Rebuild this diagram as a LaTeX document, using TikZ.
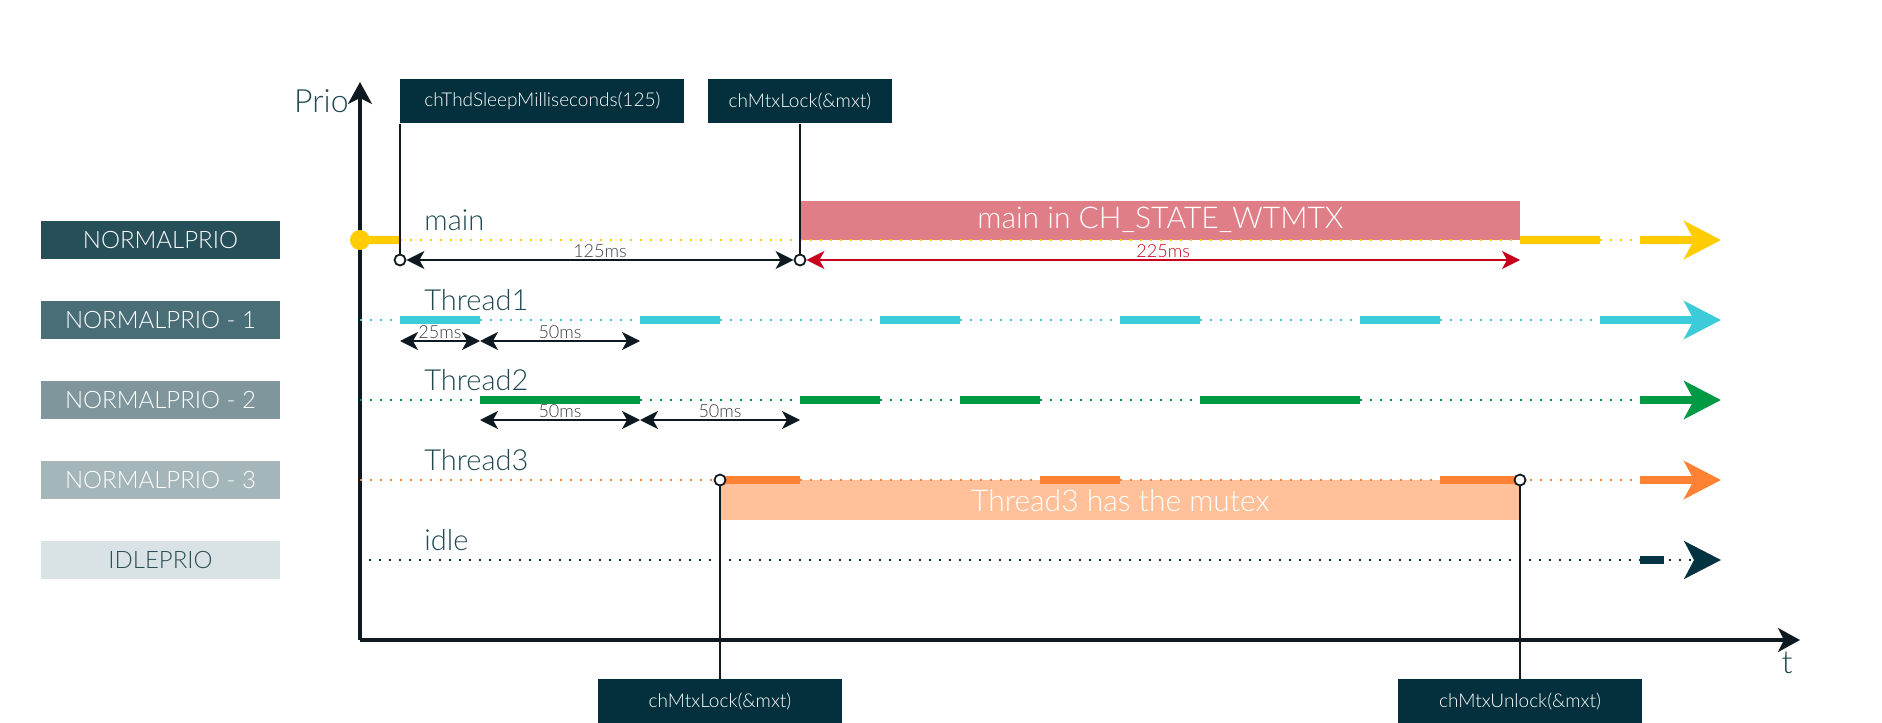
\documentclass[tikz,border=0pt]{standalone}
\usepackage{fontspec}
\setmainfont{Lato}[UprightFont=* Light]
\usetikzlibrary{arrows.meta,positioning,calc}
\definecolor{ink}{HTML}{0F1A20}
\definecolor{teal}{HTML}{1F4852}
\definecolor{callbg}{HTML}{03303C}
\definecolor{prioA}{HTML}{264F5A}
\definecolor{prioB}{HTML}{4A6E77}
\definecolor{prioC}{HTML}{7F979C}
\definecolor{prioD}{HTML}{A5B6BA}
\definecolor{prioE}{HTML}{D9E2E4}
\definecolor{idletext}{HTML}{2B4E57}
\definecolor{yellow}{HTML}{FFCC00}
\definecolor{cyan}{HTML}{3BCBD9}
\definecolor{green}{HTML}{009A44}
\definecolor{orange}{HTML}{FF8133}
\definecolor{navy}{HTML}{033341}
\definecolor{rose}{HTML}{E07E88}
\definecolor{peach}{HTML}{FFC09A}
\definecolor{red}{HTML}{C8001E}
\definecolor{dimgray}{HTML}{3A3F44}
\tikzset{
  priobox/.style={minimum width=119.5pt, minimum height=19pt, inner sep=0pt, text=white, font=\fontsize{12}{13}\selectfont},
  callbox/.style={fill=callbg, text=white, inner sep=0pt, minimum height=22pt, font=\fontsize{9.5}{10}\selectfont},
  lanelabel/.style={anchor=base west, inner sep=0pt, text=teal, font=\fontsize{14.5}{16}\selectfont},
  statebox/.style={inner sep=0pt, text=white, font=\fontsize{15}{17}\selectfont},
  dotline/.style={line width=1.2pt, dash pattern=on 1.1pt off 3.9pt},
  runseg/.style={line width=4pt},
  lanearrow/.style={line width=4pt, -{Stealth[length=18.5pt,width=19pt,inset=5pt]}},
  axisline/.style={draw=ink, line width=1.6pt, -{Stealth[length=11pt,width=12pt,inset=3pt]}},
  dimarrow/.style={line width=1pt, {Stealth[length=9pt,width=9pt,inset=2.5pt]}-{Stealth[length=9pt,width=9pt,inset=2.5pt]}},
  dimlabel/.style={above, inner sep=0.6pt, text=dimgray, font=\fontsize{9}{10}\selectfont},
  callline/.style={draw=ink, line width=0.8pt},
  evt/.style={circle, draw=ink, fill=white, line width=0.9pt, minimum size=5.5pt, inner sep=0pt},
}

\begin{document}
\begin{tikzpicture}[x=0.5pt, y=-0.5pt]
\useasboundingbox (0,0) rectangle (1882,722);
\foreach \txt/\col/\tc [count=\i from 0] in {NORMALPRIO/prioA/white, NORMALPRIO - 1/prioB/white, NORMALPRIO - 2/prioC/white, NORMALPRIO - 3/prioD/white, IDLEPRIO/prioE/idletext}
  \node[priobox, fill=\col, text=\tc] (prio\i) at (160.5,{240+80*\i}) {\txt};
\coordinate (o) at (360,640);
\coordinate (ytip) at (360,82);
\coordinate (xtip) at (1800,640);
\draw[axisline] (o) -- (ytip);
\draw[axisline] (o) -- (xtip);
\node[anchor=east, inner sep=0pt, text=teal, font=\fontsize{16}{17}\selectfont] (priolab) at (349,101) {Prio};
\node[inner sep=0pt, text=teal, font=\fontsize{16}{17}\selectfont] (tlab) at (1787,663) {t};
\node[lanelabel] (lmain) at (424,230) {main};
\node[lanelabel] (lth1) at (424,310) {Thread1};
\node[lanelabel] (lth2) at (424,390) {Thread2};
\node[lanelabel] (lth3) at (424,470) {Thread3};
\node[lanelabel] (lidle) at (424,550) {idle};
\node[statebox, fill=rose, minimum width=360pt, minimum height=19.5pt, anchor=south west] (wtmtx) at (800,240) {main in CH\_STATE\_WTMTX};
\node[statebox, fill=peach, minimum width=400pt, minimum height=20pt, anchor=north west] (owns) at (720,480) {Thread3 has the mutex};
\node[callbox, minimum width=142pt, anchor=north west] (sleep) at (400,79) {chThdSleepMilliseconds(125)};
\node[callbox, minimum width=92pt, anchor=north] (lockA) at (800,79) {chMtxLock(\&mxt)};
\node[callbox, minimum width=122pt, anchor=north] (lockB) at (720,679) {chMtxLock(\&mxt)};
\node[callbox, minimum width=122pt, anchor=north] (unlock) at (1520,679) {chMtxUnlock(\&mxt)};
\fill[yellow] (360,240) circle (5pt);
\draw[yellow, runseg] (360,240) -- (400,240);
\draw[yellow, dotline] (400,240) -- (1640,240);
\draw[yellow, runseg] (1520,240) -- (1600,240);
\draw[yellow, lanearrow] (1640,240) -- (1721,240);
\draw[cyan, dotline] (360,320) -- (1600,320);
\foreach \a/\b in {0/1,3/4,6/7,9/10,12/13}
  \draw[cyan, runseg] ({400+80*\a},320) -- ({400+80*\b},320);
\draw[cyan, lanearrow] (1600,320) -- (1721,320);
\draw[green, dotline] (360,400) -- (1640,400);
\foreach \a/\b in {1/3,5/6,7/8,10/12}
  \draw[green, runseg] ({400+80*\a},400) -- ({400+80*\b},400);
\draw[green, lanearrow] (1640,400) -- (1721,400);
\draw[orange, dotline] (360,480) -- (1640,480);
\foreach \a/\b in {4/5,8/9,13/14}
  \draw[orange, runseg] ({400+80*\a},480) -- ({400+80*\b},480);
\draw[orange, lanearrow] (1640,480) -- (1721,480);
\draw[navy, dotline, -{Stealth[length=18.5pt,width=19pt,inset=5pt]}] (369,560) -- (1721,560);
\draw[navy, runseg] (1640,560) -- (1664,560);
\node[evt] (e0) at (400,260) {};
\node[evt] (e1) at (800,260) {};
\node[evt] (e2) at (720,480) {};
\node[evt] (e3) at (1520,480) {};
\coordinate (e4) at (1520,260);
\draw[callline] (sleep.south west) -- (e0);
\draw[callline] (lockA.south) -- (e1);
\draw[callline] (e2) -- (lockB);
\draw[callline] (e3) -- (unlock);
\draw[ink, dimarrow] (e0) -- node[dimlabel]{125ms} (e1);
\draw[red, dimarrow] (e1) -- node[dimlabel, text=red]{225ms} (e4);
\foreach \k in {0,...,5} {
  \coordinate (ta\k) at ({400+80*\k},341);
  \coordinate (tb\k) at ({400+80*\k},420);
}
\draw[ink, dimarrow] (ta0) -- node[dimlabel]{25ms} (ta1);
\draw[ink, dimarrow] (ta1) -- node[dimlabel]{50ms} (ta3);
\draw[ink, dimarrow] (tb1) -- node[dimlabel]{50ms} (tb3);
\draw[ink, dimarrow] (tb3) -- node[dimlabel]{50ms} (tb5);
\end{tikzpicture}
\end{document}
